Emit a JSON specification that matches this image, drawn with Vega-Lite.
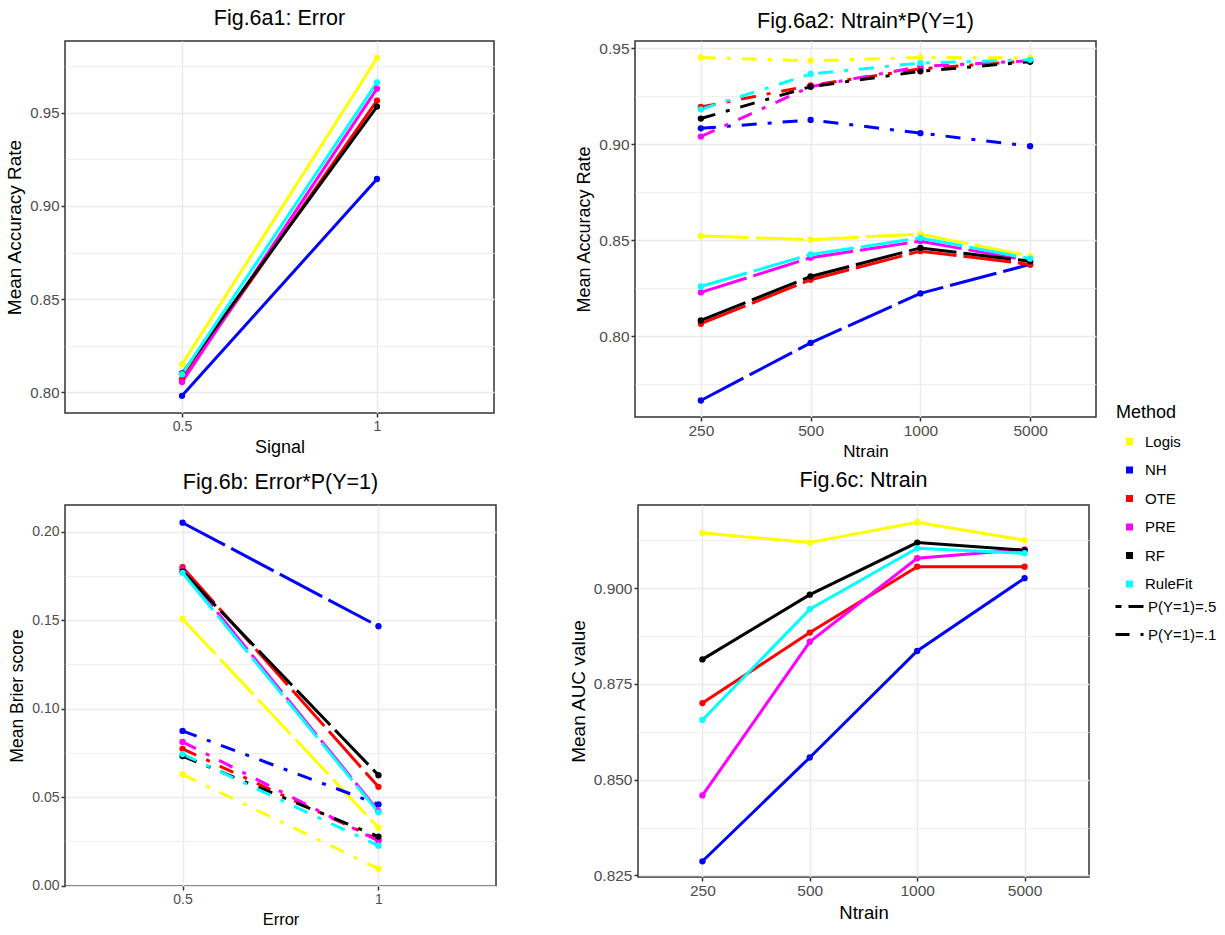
{
  "$schema": "https://vega.github.io/schema/vega-lite/v6.json",
  "padding": {"left": 5, "top": 6, "right": 5, "bottom": 5},
  "config": {
    "font": "Liberation Sans",
    "view": {"stroke": "#333333", "strokeWidth": 1.5},
    "title": {"fontSize": 21.5, "fontWeight": "normal", "color": "#000000", "anchor": "middle"},
    "axis": {
      "labelFontSize": 15, "labelColor": "#4D4D4D", "titleFontSize": 18, "titleFontWeight": "normal", "titleColor": "#000000",
      "domain": false, "tickColor": "#333333", "tickWidth": 1.5, "tickSize": 4, "gridColor": "#EBEBEB", "gridWidth": 1.5,
      "labelPadding": 2, "titlePadding": 5
    },
    "legend": {"padding": 0, "labelFontSize": 15, "titleFontSize": 18, "titleFontWeight": "normal", "titleColor": "#000000", "labelColor": "#000000", "titlePadding": 12, "rowPadding": 11.5}
  },
  "datasets": {
    "p1": [
      {"Method": "Logis", "x": 0.5, "y": 0.815}, {"Method": "Logis", "x": 1, "y": 0.9795},
      {"Method": "NH", "x": 0.5, "y": 0.798}, {"Method": "NH", "x": 1, "y": 0.9145},
      {"Method": "OTE", "x": 0.5, "y": 0.807}, {"Method": "OTE", "x": 1, "y": 0.9566},
      {"Method": "PRE", "x": 0.5, "y": 0.8054}, {"Method": "PRE", "x": 1, "y": 0.963},
      {"Method": "RF", "x": 0.5, "y": 0.810}, {"Method": "RF", "x": 1, "y": 0.9534},
      {"Method": "RuleFit", "x": 0.5, "y": 0.8096}, {"Method": "RuleFit", "x": 1, "y": 0.9664}
    ],
    "p2": [
      {"Method": "Logis", "P": ".1", "x": 250, "y": 0.9452}, {"Method": "Logis", "P": ".1", "x": 500, "y": 0.9435}, {"Method": "Logis", "P": ".1", "x": 1000, "y": 0.9452}, {"Method": "Logis", "P": ".1", "x": 5000, "y": 0.945},
      {"Method": "Logis", "P": ".5", "x": 250, "y": 0.8522}, {"Method": "Logis", "P": ".5", "x": 500, "y": 0.8503}, {"Method": "Logis", "P": ".5", "x": 1000, "y": 0.8532}, {"Method": "Logis", "P": ".5", "x": 5000, "y": 0.8417},
      {"Method": "NH", "P": ".1", "x": 250, "y": 0.9083}, {"Method": "NH", "P": ".1", "x": 500, "y": 0.9127}, {"Method": "NH", "P": ".1", "x": 1000, "y": 0.9058}, {"Method": "NH", "P": ".1", "x": 5000, "y": 0.899},
      {"Method": "NH", "P": ".5", "x": 250, "y": 0.7665}, {"Method": "NH", "P": ".5", "x": 500, "y": 0.7965}, {"Method": "NH", "P": ".5", "x": 1000, "y": 0.8223}, {"Method": "NH", "P": ".5", "x": 5000, "y": 0.8374},
      {"Method": "OTE", "P": ".1", "x": 250, "y": 0.9194}, {"Method": "OTE", "P": ".1", "x": 500, "y": 0.9306}, {"Method": "OTE", "P": ".1", "x": 1000, "y": 0.9393}, {"Method": "OTE", "P": ".1", "x": 5000, "y": 0.9435},
      {"Method": "OTE", "P": ".5", "x": 250, "y": 0.8065}, {"Method": "OTE", "P": ".5", "x": 500, "y": 0.8294}, {"Method": "OTE", "P": ".5", "x": 1000, "y": 0.8443}, {"Method": "OTE", "P": ".5", "x": 5000, "y": 0.8374},
      {"Method": "PRE", "P": ".1", "x": 250, "y": 0.904}, {"Method": "PRE", "P": ".1", "x": 500, "y": 0.930}, {"Method": "PRE", "P": ".1", "x": 1000, "y": 0.9405}, {"Method": "PRE", "P": ".1", "x": 5000, "y": 0.9435},
      {"Method": "PRE", "P": ".5", "x": 250, "y": 0.8228}, {"Method": "PRE", "P": ".5", "x": 500, "y": 0.8409}, {"Method": "PRE", "P": ".5", "x": 1000, "y": 0.8495}, {"Method": "PRE", "P": ".5", "x": 5000, "y": 0.8392},
      {"Method": "RF", "P": ".1", "x": 250, "y": 0.9134}, {"Method": "RF", "P": ".1", "x": 500, "y": 0.930}, {"Method": "RF", "P": ".1", "x": 1000, "y": 0.938}, {"Method": "RF", "P": ".1", "x": 5000, "y": 0.943},
      {"Method": "RF", "P": ".5", "x": 250, "y": 0.8082}, {"Method": "RF", "P": ".5", "x": 500, "y": 0.8311}, {"Method": "RF", "P": ".5", "x": 1000, "y": 0.846}, {"Method": "RF", "P": ".5", "x": 5000, "y": 0.839},
      {"Method": "RuleFit", "P": ".1", "x": 250, "y": 0.9182}, {"Method": "RuleFit", "P": ".1", "x": 500, "y": 0.9366}, {"Method": "RuleFit", "P": ".1", "x": 1000, "y": 0.9423}, {"Method": "RuleFit", "P": ".1", "x": 5000, "y": 0.944},
      {"Method": "RuleFit", "P": ".5", "x": 250, "y": 0.8259}, {"Method": "RuleFit", "P": ".5", "x": 500, "y": 0.8426}, {"Method": "RuleFit", "P": ".5", "x": 1000, "y": 0.8512}, {"Method": "RuleFit", "P": ".5", "x": 5000, "y": 0.8404}
    ],
    "p3": [
      {"Method": "Logis", "P": ".5", "x": 0.5, "y": 0.1506}, {"Method": "Logis", "P": ".5", "x": 1, "y": 0.0327},
      {"Method": "Logis", "P": ".1", "x": 0.5, "y": 0.0628}, {"Method": "Logis", "P": ".1", "x": 1, "y": 0.0096},
      {"Method": "NH", "P": ".5", "x": 0.5, "y": 0.2050}, {"Method": "NH", "P": ".5", "x": 1, "y": 0.1465},
      {"Method": "NH", "P": ".1", "x": 0.5, "y": 0.0874}, {"Method": "NH", "P": ".1", "x": 1, "y": 0.0459},
      {"Method": "OTE", "P": ".5", "x": 0.5, "y": 0.1799}, {"Method": "OTE", "P": ".5", "x": 1, "y": 0.0558},
      {"Method": "OTE", "P": ".1", "x": 0.5, "y": 0.0773}, {"Method": "OTE", "P": ".1", "x": 1, "y": 0.026},
      {"Method": "PRE", "P": ".5", "x": 0.5, "y": 0.1786}, {"Method": "PRE", "P": ".5", "x": 1, "y": 0.0421},
      {"Method": "PRE", "P": ".1", "x": 0.5, "y": 0.0812}, {"Method": "PRE", "P": ".1", "x": 1, "y": 0.0252},
      {"Method": "RF", "P": ".5", "x": 0.5, "y": 0.1775}, {"Method": "RF", "P": ".5", "x": 1, "y": 0.0624},
      {"Method": "RF", "P": ".1", "x": 0.5, "y": 0.0732}, {"Method": "RF", "P": ".1", "x": 1, "y": 0.0277},
      {"Method": "RuleFit", "P": ".5", "x": 0.5, "y": 0.1767}, {"Method": "RuleFit", "P": ".5", "x": 1, "y": 0.0414},
      {"Method": "RuleFit", "P": ".1", "x": 0.5, "y": 0.0743}, {"Method": "RuleFit", "P": ".1", "x": 1, "y": 0.0226}
    ],
    "p4": [
      {"Method": "Logis", "x": 250, "y": 0.9144}, {"Method": "Logis", "x": 500, "y": 0.9119}, {"Method": "Logis", "x": 1000, "y": 0.9172}, {"Method": "Logis", "x": 5000, "y": 0.9125},
      {"Method": "NH", "x": 250, "y": 0.8287}, {"Method": "NH", "x": 500, "y": 0.8558}, {"Method": "NH", "x": 1000, "y": 0.8836}, {"Method": "NH", "x": 5000, "y": 0.9026},
      {"Method": "OTE", "x": 250, "y": 0.8700}, {"Method": "OTE", "x": 500, "y": 0.8884}, {"Method": "OTE", "x": 1000, "y": 0.9056}, {"Method": "OTE", "x": 5000, "y": 0.9056},
      {"Method": "PRE", "x": 250, "y": 0.8459}, {"Method": "PRE", "x": 500, "y": 0.8860}, {"Method": "PRE", "x": 1000, "y": 0.9078}, {"Method": "PRE", "x": 5000, "y": 0.9101},
      {"Method": "RF", "x": 250, "y": 0.8814}, {"Method": "RF", "x": 500, "y": 0.8983}, {"Method": "RF", "x": 1000, "y": 0.9119}, {"Method": "RF", "x": 5000, "y": 0.9099},
      {"Method": "RuleFit", "x": 250, "y": 0.8656}, {"Method": "RuleFit", "x": 500, "y": 0.8945}, {"Method": "RuleFit", "x": 1000, "y": 0.9104}, {"Method": "RuleFit", "x": 5000, "y": 0.9091}
    ]
  },
  "spacing": 7,
  "vconcat": [
    {
      "spacing": 80,
      "hconcat": [
        {
          "width": 429, "height": 372,
          "title": {"text": "Fig.6a1: Error", "offset": 12},
          "data": {"name": "p1"},
          "encoding": {
            "x": {"field": "x", "type": "ordinal", "title": "Signal", "scale": {"type": "point", "padding": 0.6}, "axis": {"labelAngle": 0, "grid": true, "labelFontSize": 14}},
            "y": {"field": "y", "type": "quantitative", "title": "Mean Accuracy Rate", "scale": {"domain": [0.7888, 0.9886], "nice": false, "zero": false},
              "axis": {"titleFontSize": 19, "values": [0.8, 0.825, 0.85, 0.875, 0.9, 0.925, 0.95, 0.975],
                "labelExpr": "abs(datum.value*20 - round(datum.value*20)) < 0.001 ? format(datum.value, '.2f') : ''",
                "tickOpacity": {"condition": {"test": "abs(datum.value*20 - round(datum.value*20)) > 0.001", "value": 0}, "value": 1},
                "gridWidth": {"condition": {"test": "abs(datum.value*20 - round(datum.value*20)) > 0.001", "value": 0.8}, "value": 1.5}}},
            "color": {"field": "Method", "type": "nominal",
              "scale": {"domain": ["Logis", "NH", "OTE", "PRE", "RF", "RuleFit"], "range": ["#FFFF00", "#0000FF", "#FF0000", "#FF00FF", "#000000", "#00FFFF"]},
              "legend": {"orient": "none", "legendX": 1051, "legendY": 363, "title": "Method", "symbolType": "square", "symbolSize": 16, "symbolStrokeWidth": 3, "symbolOffset": 6, "labelOffset": 8}}
          },
          "layer": [
            {"mark": {"type": "line", "strokeWidth": 3}},
            {"mark": {"type": "point", "filled": true, "size": 40, "opacity": 1}}
          ]
        },
        {
          "width": 461, "height": 376,
          "title": {"text": "Fig.6a2: Ntrain*P(Y=1)", "offset": 9},
          "data": {"name": "p2"},
          "encoding": {
            "x": {"field": "x", "type": "ordinal", "title": "Ntrain", "scale": {"type": "point", "padding": 0.6}, "axis": {"labelAngle": 0, "grid": true, "titleFontSize": 17, "labelFontSize": 15.5}},
            "y": {"field": "y", "type": "quantitative", "title": "Mean Accuracy Rate", "scale": {"domain": [0.7579, 0.9538], "nice": false, "zero": false},
              "axis": {"labelFontSize": 15.5, "values": [0.775, 0.8, 0.825, 0.85, 0.875, 0.9, 0.925, 0.95],
                "labelExpr": "abs(datum.value*20 - round(datum.value*20)) < 0.001 ? format(datum.value, '.2f') : ''",
                "tickOpacity": {"condition": {"test": "abs(datum.value*20 - round(datum.value*20)) > 0.001", "value": 0}, "value": 1},
                "gridWidth": {"condition": {"test": "abs(datum.value*20 - round(datum.value*20)) > 0.001", "value": 0.8}, "value": 1.5}}},
            "color": {"field": "Method", "type": "nominal",
              "scale": {"domain": ["Logis", "NH", "OTE", "PRE", "RF", "RuleFit"], "range": ["#FFFF00", "#0000FF", "#FF0000", "#FF00FF", "#000000", "#00FFFF"]},
              "legend": {"orient": "none", "legendX": 1051, "legendY": 363, "title": "Method", "symbolType": "square", "symbolSize": 16, "symbolStrokeWidth": 3, "symbolOffset": 6, "labelOffset": 8}}
          },
          "layer": [
            {"mark": {"type": "line", "strokeWidth": 3},
              "encoding": {"strokeDash": {"field": "P", "type": "nominal", "scale": {"domain": [".5", ".1"], "range": [[48, 7], [15, 11, 4, 11]]},
                "legend": {"orient": "none", "legendX": 1049, "legendY": 550, "title": null, "symbolType": "stroke", "symbolSize": 784, "symbolStrokeWidth": 3, "symbolStrokeColor": "#000000", "symbolDashOffset": 42, "rowPadding": 4, "labelOffset": 3, "labelExpr": "'P(Y=1)=' + datum.label"}}}},
            {"mark": {"type": "point", "filled": true, "size": 40, "opacity": 1}}
          ]
        }
      ]
    },
    {
      "spacing": 71,
      "hconcat": [
        {
          "width": 431, "height": 381,
          "title": {"text": "Fig.6b: Error*P(Y=1)", "offset": 12},
          "data": {"name": "p3"},
          "encoding": {
            "x": {"field": "x", "type": "ordinal", "title": "Error", "scale": {"type": "point", "padding": 0.6}, "axis": {"labelAngle": 0, "grid": true, "labelFontSize": 14, "titleFontSize": 16.5}},
            "y": {"field": "y", "type": "quantitative", "title": "Mean Brier score", "scale": {"domain": [-0.0002, 0.215], "nice": false, "zero": false},
              "axis": {"labelFontSize": 14, "titleFontSize": 17.5, "values": [0, 0.025, 0.05, 0.075, 0.1, 0.125, 0.15, 0.175, 0.2],
                "labelExpr": "abs(datum.value*20 - round(datum.value*20)) < 0.001 ? format(datum.value, '.2f') : ''",
                "tickOpacity": {"condition": {"test": "abs(datum.value*20 - round(datum.value*20)) > 0.001", "value": 0}, "value": 1},
                "gridWidth": {"condition": {"test": "abs(datum.value*20 - round(datum.value*20)) > 0.001", "value": 0.8}, "value": 1.5}}},
            "color": {"field": "Method", "type": "nominal",
              "scale": {"domain": ["Logis", "NH", "OTE", "PRE", "RF", "RuleFit"], "range": ["#FFFF00", "#0000FF", "#FF0000", "#FF00FF", "#000000", "#00FFFF"]},
              "legend": {"orient": "none", "legendX": 1051, "legendY": 363, "title": "Method", "symbolType": "square", "symbolSize": 16, "symbolStrokeWidth": 3, "symbolOffset": 6, "labelOffset": 8}}
          },
          "layer": [
            {"mark": {"type": "line", "strokeWidth": 3},
              "encoding": {"strokeDash": {"field": "P", "type": "nominal", "scale": {"domain": [".5", ".1"], "range": [[48, 7], [15, 11, 4, 11]]},
                "legend": {"orient": "none", "legendX": 1049, "legendY": 550, "title": null, "symbolType": "stroke", "symbolSize": 784, "symbolStrokeWidth": 3, "symbolStrokeColor": "#000000", "symbolDashOffset": 42, "rowPadding": 4, "labelOffset": 3, "labelExpr": "'P(Y=1)=' + datum.label"}}}},
            {"mark": {"type": "point", "filled": true, "size": 40, "opacity": 1}}
          ]
        },
        {
          "width": 451, "height": 372,
          "title": {"text": "Fig.6c: Ntrain", "offset": 14},
          "data": {"name": "p4"},
          "encoding": {
            "x": {"field": "x", "type": "ordinal", "title": "Ntrain", "scale": {"type": "point", "padding": 0.6}, "axis": {"labelAngle": 0, "grid": true, "titleFontSize": 18.5, "labelFontSize": 15.5}},
            "y": {"field": "y", "type": "quantitative", "title": "Mean AUC value", "scale": {"domain": [0.8246, 0.9217], "nice": false, "zero": false},
              "axis": {"labelFontSize": 15.5, "titleFontSize": 19, "values": [0.825, 0.8375, 0.85, 0.8625, 0.875, 0.8875, 0.9, 0.9125],
                "labelExpr": "abs(datum.value*40 - round(datum.value*40)) < 0.001 ? format(datum.value, '.3f') : ''",
                "tickOpacity": {"condition": {"test": "abs(datum.value*40 - round(datum.value*40)) > 0.001", "value": 0}, "value": 1},
                "gridWidth": {"condition": {"test": "abs(datum.value*40 - round(datum.value*40)) > 0.001", "value": 0.8}, "value": 1.5}}},
            "color": {"field": "Method", "type": "nominal",
              "scale": {"domain": ["Logis", "NH", "OTE", "PRE", "RF", "RuleFit"], "range": ["#FFFF00", "#0000FF", "#FF0000", "#FF00FF", "#000000", "#00FFFF"]},
              "legend": {"orient": "none", "legendX": 1051, "legendY": 363, "title": "Method", "symbolType": "square", "symbolSize": 16, "symbolStrokeWidth": 3, "symbolOffset": 6, "labelOffset": 8}}
          },
          "layer": [
            {"mark": {"type": "line", "strokeWidth": 3}},
            {"mark": {"type": "point", "filled": true, "size": 40, "opacity": 1}}
          ]
        }
      ]
    }
  ]
}
